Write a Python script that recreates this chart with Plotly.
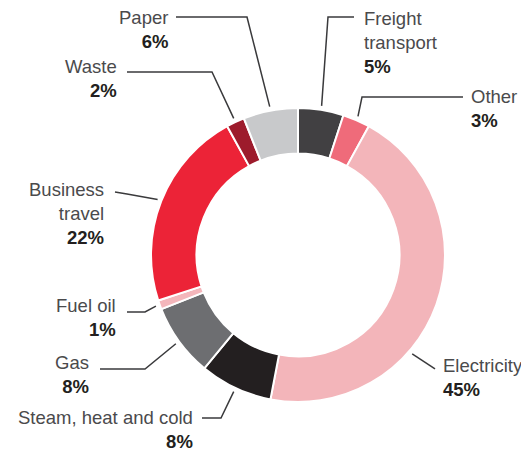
"""Donut chart: breakdown by source, with outside labels and leader lines."""
import math

import plotly.graph_objects as go

W, H = 529, 452
# the page body has an 8px margin, so the figure starts 8px in
OFF = 8
FIG_W, FIG_H = W - OFF, H - OFF

# slices, clockwise from 12 o'clock
labels = [
    "Freight transport", "Other", "Electricity", "Steam, heat and cold",
    "Gas", "Fuel oil", "Business travel", "Waste", "Paper",
]
shares = [5, 3, 45, 8, 8, 1, 22, 2, 6]
label_lines = [
    ["Freight", "transport"], ["Other"], ["Electricity"], ["Steam, heat and cold"],
    ["Gas"], ["Fuel oil"], ["Business", "travel"], ["Waste"], ["Paper"],
]
colors = [
    "#414042", "#ef6b7a", "#f3b5ba", "#231f20",
    "#6d6e71", "#f4b6bb", "#ec2337", "#9d1b2c", "#c8c9cb",
]

# donut box in page pixels (left, right, top, bottom)
DONUT = (151, 445, 108, 402)
HOLE = 0.69

# label placement in page pixels: side, text edge x, centre y of first line
label_pos = {
    "Freight transport": ("left", 363, 19),
    "Other": ("left", 470, 97),
    "Electricity": ("left", 442, 366),
    "Steam, heat and cold": ("right", 194, 418),
    "Gas": ("right", 90, 363),
    "Fuel oil": ("right", 117, 306),
    "Business travel": ("right", 105, 190),
    "Waste": ("right", 118, 67),
    "Paper": ("right", 169, 18),
}
# leader line points from the label to the elbow, page pixels
leaders = {
    "Freight transport": [(354, 17), (328, 17)],
    "Other": [(463, 97), (362, 97)],
    "Electricity": [(435, 369)],
    "Steam, heat and cold": [(202, 418), (221, 418)],
    "Gas": [(100, 369), (145, 369)],
    "Fuel oil": [(127, 312), (145, 312)],
    "Business travel": [(115, 192), (127, 194)],
    "Waste": [(127, 72), (212, 72)],
    "Paper": [(176, 17), (247, 17)],
}
# where along the slice (0..1) the leader touches, default is the middle
anchor_frac = {"Electricity": 0.63}

FONT = "Liberation Sans, Arial, Helvetica, sans-serif"
FS = 18.5
NAME_COLOR = "#4a4a4c"
PCT_COLOR = "#231f20"
LINE_COLOR = "#3a3a3c"


def px(x):
    return (x - OFF) / FIG_W


def py(y):
    return 1 - (y - OFF) / FIG_H


def _anchor_points():
    left, right, top, bottom = DONUT
    cx, cy = (left + right) / 2, (top + bottom) / 2
    r = min(right - left, bottom - top) / 2 + 4
    total = sum(shares)
    pts = {}
    start = 0
    for name, v in zip(labels, shares):
        f = anchor_frac.get(name, 0.5)
        ang = 2 * math.pi * (start + f * v) / total
        pts[name] = (cx + r * math.sin(ang), cy - r * math.cos(ang))
        start += v
    return pts


fig = go.Figure()
left, right, top, bottom = DONUT
fig.add_trace(go.Pie(
    labels=labels,
    values=shares,
    sort=False,
    direction="clockwise",
    rotation=0,
    hole=HOLE,
    marker=dict(colors=colors, line=dict(color="white", width=2)),
    textinfo="none",
    hovertemplate="%{label}: %{value}%<extra></extra>",
    showlegend=False,
    domain=dict(x=[px(left), px(right)], y=[py(bottom), py(top)]),
))

anchors = _anchor_points()
shapes = []
annotations = []
for name, lines, v in zip(labels, label_lines, shares):
    pts = leaders[name] + [anchors[name]]
    path = "M " + " L ".join(f"{px(x):.5f},{py(y):.5f}" for x, y in pts)
    shapes.append(dict(type="path", path=path, xref="paper", yref="paper",
                       line=dict(color=LINE_COLOR, width=1.5)))

    side, tx, ty = label_pos[name]
    text = "<br>".join(lines) + f'<br><b><span style="color:{PCT_COLOR}">{v}%</span></b>'
    annotations.append(dict(
        x=px(tx), y=py(ty - 0.65 * FS), xref="paper", yref="paper",
        xanchor="right" if side == "right" else "left", yanchor="top",
        align=side, text=text, showarrow=False, borderpad=0,
        font=dict(family=FONT, size=FS, color=NAME_COLOR),
    ))

fig.update_layout(
    width=FIG_W,
    height=FIG_H,
    margin=dict(l=0, r=0, t=0, b=0),
    paper_bgcolor="white",
    plot_bgcolor="white",
    shapes=shapes,
    annotations=annotations,
)

fig.write_html("out.html")
